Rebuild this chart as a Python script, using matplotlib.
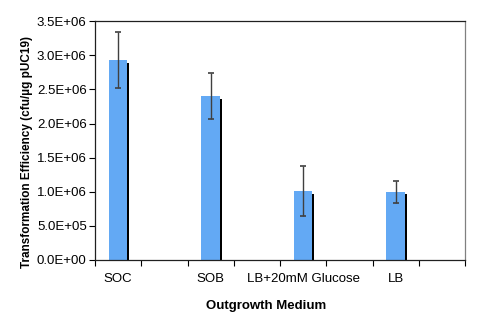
import matplotlib
matplotlib.use('Agg')
import matplotlib.pyplot as plt
import matplotlib.patheffects as pe
import numpy as np

# Data (blank slots are spacer categories)
categories = ['SOC', '', 'SOB', '', 'LB+20mM Glucose', '', 'LB', '']
values = [2.93e6, np.nan, 2.40e6, np.nan, 1.01e6, np.nan, 1.00e6, np.nan]
errors = [0.41e6, np.nan, 0.335e6, np.nan, 0.365e6, np.nan, 0.16e6, np.nan]
yticks = [0, 5e5, 1e6, 1.5e6, 2e6, 2.5e6, 3e6, 3.5e6]
ytick_labels = ['0.0E+00', '5.0E+05', '1.0E+06', '1.5E+06',
                '2.0E+06', '2.5E+06', '3.0E+06', '3.5E+06']

plt.rcParams['font.family'] = ['Liberation Sans', 'DejaVu Sans']

fig = plt.figure(figsize=(5, 3.25), dpi=100)
ax = fig.add_axes([0.19, 0.2, 0.74, 0.735])

x = np.arange(len(categories))
bars = ax.bar(x, values, width=0.4, color='#63A9F4', zorder=2)
for b in bars:
    b.set_path_effects([pe.SimplePatchShadow(offset=(1.4, -1.8), shadow_rgbFace='black', alpha=1.0),
                        pe.Normal()])
ax.errorbar(x, values, yerr=errors, fmt='none', ecolor='#404040',
            elinewidth=1.0, capsize=2.5, capthick=1.2, zorder=3)

ax.set_xlim(-0.5, len(categories) - 0.5)
ax.set_ylim(0, 3.5e6)
ax.set_yticks(yticks)
ax.set_yticklabels(ytick_labels, fontsize=9.5)

# boundary ticks, labels centred on categories
ax.set_xticks(np.arange(len(categories) + 1) - 0.5)
ax.set_xticklabels([])
ax.set_xticks(x, minor=True)
ax.set_xticklabels(categories, minor=True, fontsize=9.5)
ax.tick_params(axis='x', which='minor', length=0, pad=9)
ax.tick_params(axis='x', which='major', length=4, width=0.8, direction='out')
ax.tick_params(axis='y', length=4, width=0.8, direction='out', pad=2)

for side in ['left', 'bottom', 'top']:
    ax.spines[side].set_color('#202020')
    ax.spines[side].set_linewidth(0.9)
ax.spines['right'].set_color('#808080')
ax.spines['right'].set_linewidth(0.9)

fig.text(0.532, 0.058, 'Outgrowth Medium', ha='center', va='center',
         fontsize=9.5, fontweight='bold')
fig.text(0.054, 0.532, 'Transformation Efficiency (cfu/\u00b5g pUC19)', ha='center',
         va='center', rotation=90, fontsize=8.5, fontweight='bold')

fig.savefig('out.png', dpi=100)
